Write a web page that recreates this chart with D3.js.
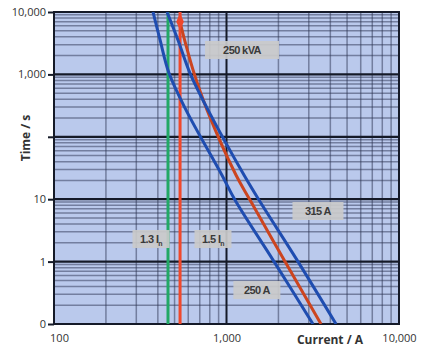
<!DOCTYPE html>
<html><head><meta charset="utf-8">
<script src="https://cdn.jsdelivr.net/npm/d3@7"></script>
<style>
html,body{margin:0;padding:0;background:#fff;}
svg{display:block;font-family:"Liberation Sans",Arial,sans-serif;}
</style></head>
<body><svg id="c" width="422" height="349"></svg>
<script>
// ---- data (current in A, time in s) ----
const fuse250 = [[375,10000],[412,3560],[464,1050],[582,270],[940,24.4],[1120,9.7],[1886,1],[3172,0.1]];
const fuse315 = [[452,10000],[523,3560],[614,1050],[781,270],[1263,24.4],[1543,9.7],[2597,1],[4314,0.1]];
const trafo250 = [[538,6900],[582,2960],[648,1050],[771,270],[1135,24.4],[1369,9.7],[2183,1],[3530,0.1]];
const greenLineI = 458;   // 1.3 In
const redLineI = 538;     // 1.5 In
const markerT = 7000;
const yTicks = [10000,1000,100,10,1,0.1];
const yTickLabels = ["10,000","1,000","","10","1","0"];
const xTicks = [100,1000,10000];
const xTickLabels = ["100","1,000","10,000"];
const labels = [
  {text:"250 kVA", I:1230, t:2460, w:74},
  {text:"315 A", I:3390, t:6.47, w:51},
  {text:"250 A", I:1500, t:0.35, w:47},
  {text:"1.3 I", sub:"n", I:365, t:2.3, w:37},
  {text:"1.5 I", sub:"n", I:835, t:2.3, w:37}
];

const svg = d3.select("#c");
const L=54, R=399, T=12, B=324;
const x = d3.scaleLog().domain([100,10000]).range([L,R]);
const y = d3.scaleLog().domain([0.1,10000]).range([B,T]);

svg.append("rect").attr("x",L).attr("y",T).attr("width",R-L).attr("height",B-T).attr("fill","#bac9ec");

// minor grid
const minorX=[], minorY=[];
for (let d=100; d<10000; d*=10) for (let k=2;k<=9;k++) minorX.push(d*k);
for (let d=0.1; d<10000; d*=10) for (let k=2;k<=9;k++) minorY.push(d*k);
const g = svg.append("g");
g.selectAll(".mx").data(minorX).join("line")
  .attr("x1",d=>x(d)).attr("x2",d=>x(d)).attr("y1",T).attr("y2",B)
  .attr("stroke","#2b3452").attr("stroke-opacity",0.5).attr("stroke-width",1.5);
g.selectAll(".my").data(minorY).join("line")
  .attr("y1",d=>y(d)).attr("y2",d=>y(d)).attr("x1",L).attr("x2",R)
  .attr("stroke","#2b3452").attr("stroke-opacity",0.5).attr("stroke-width",1.5);
// major grid
g.selectAll(".Mx").data(xTicks).join("line")
  .attr("x1",d=>x(d)).attr("x2",d=>x(d)).attr("y1",T).attr("y2",B)
  .attr("stroke","#151a28").attr("stroke-width",2);
g.selectAll(".My").data(yTicks).join("line")
  .attr("y1",d=>y(d)).attr("y2",d=>y(d)).attr("x1",L).attr("x2",R)
  .attr("stroke","#151a28").attr("stroke-width",2.2);
svg.append("rect").attr("x",L).attr("y",T).attr("width",R-L).attr("height",B-T)
  .attr("fill","none").attr("stroke","#151a28").attr("stroke-width",2);

// axes
const ya = d3.axisLeft(y).tickValues(yTicks).tickFormat((d,i)=>yTickLabels[i]).tickSize(6).tickPadding(2);
const yg = svg.append("g").attr("transform",`translate(${L},0)`).call(ya);
yg.select(".domain").remove();
yg.selectAll("line").attr("stroke","#151a28").attr("stroke-width",2);
yg.selectAll("text").attr("font-size",11).attr("fill","#333").attr("font-family","'Open Sans',sans-serif");

const xa = d3.axisBottom(x).tickValues(xTicks).tickFormat((d,i)=>xTickLabels[i]).tickSize(0).tickPadding(10);
const xg = svg.append("g").attr("transform",`translate(0,${B})`).call(xa);
xg.select(".domain").remove();
xg.selectAll("text").attr("font-size",11).attr("fill","#333").attr("font-family","'Open Sans',sans-serif");
xg.selectAll(".tick").filter(d=>d===100).select("text").attr("dx",5);

svg.append("text").attr("transform","translate(30,138) rotate(-90)").attr("text-anchor","middle")
  .attr("font-size",12).attr("font-weight","bold").attr("fill","#333").attr("font-family","'Open Sans',sans-serif").text("Time / s");
svg.append("text").attr("x",330).attr("y",344).attr("text-anchor","middle")
  .attr("font-size",12).attr("font-weight","bold").attr("fill","#333").attr("font-family","'Open Sans',sans-serif").text("Current / A");

// curves
svg.append("clipPath").attr("id","cp").append("rect").attr("x",L).attr("y",T).attr("width",R-L).attr("height",B-T);
const cg = svg.append("g").attr("clip-path","url(#cp)");
const line = d3.line().x(d=>x(d[0])).y(d=>y(d[1])).curve(d3.curveCatmullRom.alpha(0.5));

cg.append("line").attr("x1",x(greenLineI)).attr("x2",x(greenLineI)).attr("y1",T).attr("y2",B)
  .attr("stroke","#22a866").attr("stroke-width",3);
cg.append("line").attr("x1",x(redLineI)).attr("x2",x(redLineI)).attr("y1",T).attr("y2",B)
  .attr("stroke","#f0482c").attr("stroke-width",3);
cg.append("path").datum(trafo250).attr("d",line).attr("fill","none").attr("stroke","#cc4520").attr("stroke-width",3);
cg.append("path").datum(fuse250).attr("d",line).attr("fill","none").attr("stroke","#1f4db0").attr("stroke-width",3);
cg.append("path").datum(fuse315).attr("d",line).attr("fill","none").attr("stroke","#1f4db0").attr("stroke-width",3);
svg.append("path").attr("d",d3.symbol(d3.symbolDiamond,50)())
  .attr("transform",`translate(${x(redLineI)},${y(markerT)}) scale(1,1.3)`).attr("fill","#f0482c");

// labels
const lg = svg.append("g");
labels.forEach(l=>{
  const cx=x(l.I), cy=y(l.t);
  lg.append("rect").attr("x",cx-l.w/2).attr("y",cy-9).attr("width",l.w).attr("height",18)
    .attr("fill","#cacaca").attr("fill-opacity",0.92);
  const t = lg.append("text").attr("x",cx).attr("y",cy+4).attr("text-anchor","middle")
    .attr("font-size",11).attr("font-weight","bold").attr("fill","#3a3a3a").attr("letter-spacing",-0.6);
  t.append("tspan").text(l.text);
  if(l.sub) t.append("tspan").attr("font-size",7).attr("dy",3).text(l.sub);
});
</script></body></html>
